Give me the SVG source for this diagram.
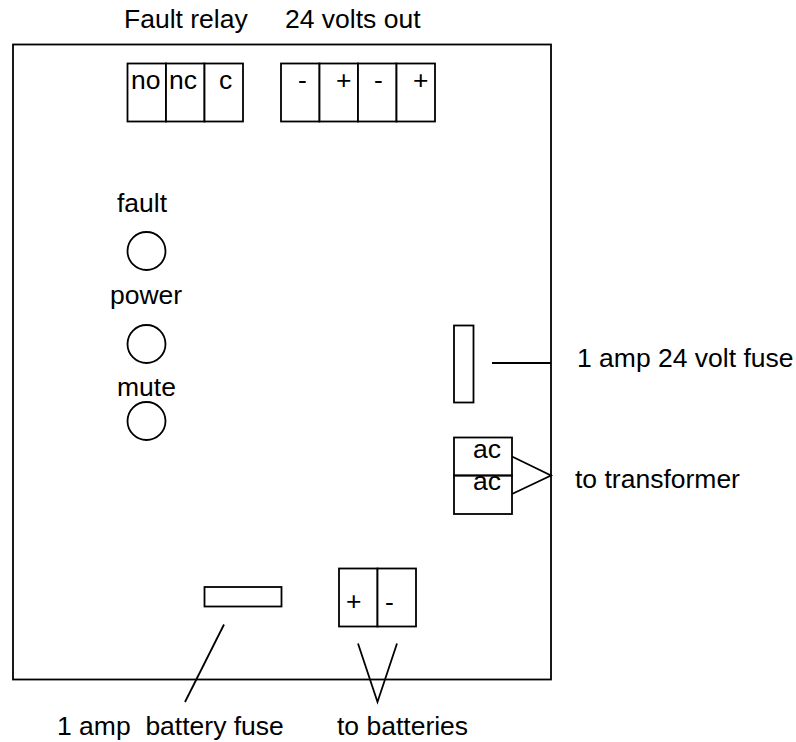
<svg xmlns="http://www.w3.org/2000/svg" width="796" height="742" viewBox="0 0 796 742">
<style>
.s{fill:#fff;stroke:#000;stroke-width:1.8}
.l{fill:none;stroke:#000;stroke-width:1.8}
text{font-family:"Liberation Sans",Arial,sans-serif;font-size:26.5px;fill:#000;white-space:pre}
</style>
<rect width="796" height="742" fill="#fff"/>
<g id="board"><rect class="s" x="13" y="44.500" width="538" height="635"/></g>
<g id="fault-relay">
<rect class="s" x="127.500" y="63.500" width="38.500" height="58"/>
<rect class="s" x="166" y="63.500" width="38.500" height="58"/>
<rect class="s" x="204.500" y="63.500" width="38.500" height="58"/>
<text x="131" y="89">no</text><text x="169" y="89">nc</text><text x="219" y="89">c</text>
<text x="124" y="28">Fault relay</text>
</g>
<g id="volts-out">
<rect class="s" x="281" y="63.500" width="38.500" height="58"/>
<rect class="s" x="319.500" y="63.500" width="38.500" height="58"/>
<rect class="s" x="358" y="63.500" width="38.500" height="58"/>
<rect class="s" x="396.500" y="63.500" width="38.500" height="58"/>
<text x="298" y="89">-</text><text x="336" y="89">+</text><text x="374" y="89">-</text><text x="413" y="89">+</text>
<text x="285" y="28">24 volts out</text>
</g>
<g id="fault"><text x="117" y="212">fault</text><circle class="s" cx="146.500" cy="251" r="19"/></g>
<g id="power"><text x="110" y="304">power</text><circle class="s" cx="146.500" cy="344" r="19"/></g>
<g id="mute"><text x="117" y="396">mute</text><circle class="s" cx="146.500" cy="421" r="19"/></g>
<g id="fuse-24v"><rect class="s" x="454" y="325.500" width="19.500" height="77"/>
<text x="577" y="367">1 amp 24 volt fuse</text></g>
<g id="ac-terminal">
<text x="473" y="458">ac</text><text x="473" y="490">ac</text>
<rect x="454" y="437.500" width="58" height="38" fill="none" stroke="#000" stroke-width="1.8"/>
<rect x="454" y="475.500" width="58" height="38.500" fill="none" stroke="#000" stroke-width="1.8"/>
<text x="575" y="488">to transformer</text>
</g>
<g id="battery-fuse"><rect class="s" x="204.500" y="587" width="77" height="19.500"/>
<text x="57" y="735">1 amp  battery fuse</text></g>
<g id="battery-terminal">
<rect class="s" x="339" y="568.500" width="38.500" height="58"/>
<rect class="s" x="377.500" y="568.500" width="38.500" height="58"/>
<text x="346" y="610">+</text><text x="385" y="611">-</text>
<text x="337" y="735">to batteries</text>
</g>
<g id="connectors">
<path class="l" d="M492 363H551"/>
<path class="l" d="M512 456.500L551 475.500L512 494"/>
<path class="l" d="M224 624.500L185 702"/>
<path class="l" d="M358 643.500L377.500 702L397 643.500"/>
</g>
</svg>
